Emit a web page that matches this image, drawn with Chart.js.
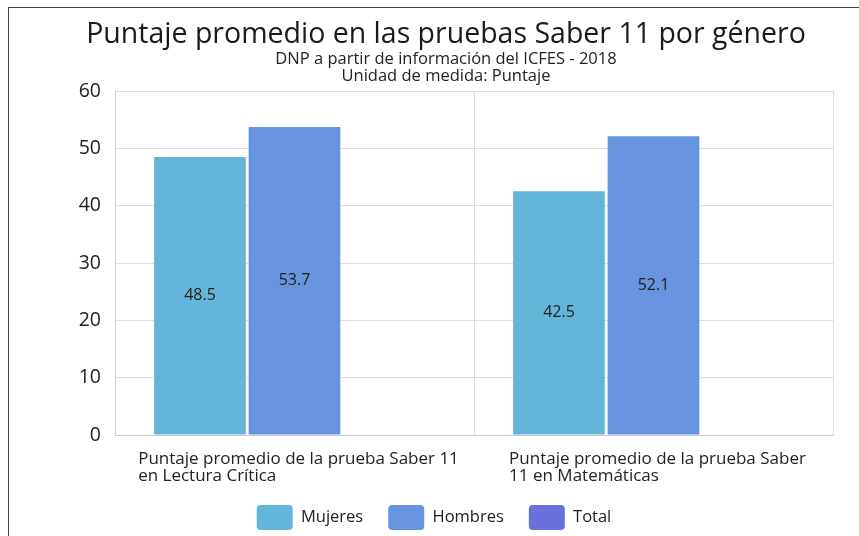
<!DOCTYPE html>
<html>
<head>
<meta charset="utf-8">
<script src="https://cdn.jsdelivr.net/npm/chart.js@4.4.1/dist/chart.umd.min.js"></script>
<style>
  html, body { margin: 0; padding: 0; background: #ffffff; overflow: hidden; width: 859px; height: 536px; }
  #frame { position: absolute; left: 8px; top: 7px; width: 851px; height: 533px;
           border-top: 1px solid #444; border-left: 1px solid #444; box-sizing: border-box; }
  #wrap { position: absolute; left: 0; top: 0; width: 850px; height: 532px; }
</style>
</head>
<body>
<div id="frame"><div id="wrap"><canvas id="c"></canvas></div></div>
<script>
const titleText = 'Puntaje promedio en las pruebas Saber 11 por género';
const subtitleLines = ['DNP a partir de información del ICFES - 2018', 'Unidad de medida: Puntaje'];
const categories = [
  ['Puntaje promedio de la prueba Saber 11', 'en Lectura Crítica'],
  ['Puntaje promedio de la prueba Saber', '11 en Matemáticas']
];
const seriesNames = ['Mujeres', 'Hombres', 'Total'];
const mujeres = [48.5, 42.5];
const hombres = [53.7, 52.1];
const total = [null, null];
const yTicks = [0, 10, 20, 30, 40, 50, 60];

const FONT = "'Open Sans', 'Noto Sans', sans-serif";
const colors = ['#63B5DA', '#6694DE', '#6870DC'];
const X_FONT_SIZE = 17;
const X_LINE = 17;

// Category labels: each multi-line label is left-aligned inside a block centred on its category
const categoryLabels = {
  id: 'categoryLabels',
  afterDraw(chart) {
    const ctx = chart.ctx;
    const xs = chart.scales.x;
    ctx.save();
    ctx.font = X_FONT_SIZE + 'px ' + FONT;
    ctx.fillStyle = '#222';
    ctx.textAlign = 'left';
    ctx.textBaseline = 'alphabetic';
    categories.forEach((lines, i) => {
      let w = 0;
      lines.forEach(l => { w = Math.max(w, ctx.measureText(l).width); });
      const x0 = xs.getPixelForValue(i) - w / 2 + 4;
      lines.forEach((l, j) => {
        ctx.fillText(l, x0, xs.top + 29 + j * X_LINE);
      });
    });
    ctx.restore();
  }
};

const valueLabels = {
  id: 'valueLabels',
  afterDatasetsDraw(chart) {
    const ctx = chart.ctx;
    ctx.save();
    ctx.font = '16px ' + FONT;
    ctx.fillStyle = '#222';
    ctx.textAlign = 'center';
    ctx.textBaseline = 'middle';
    chart.data.datasets.forEach((ds, di) => {
      const meta = chart.getDatasetMeta(di);
      if (meta.hidden) return;
      meta.data.forEach((bar, i) => {
        const v = ds.data[i];
        if (v === null || v === undefined) return;
        ctx.fillText(String(v), bar.x, (bar.y + bar.base) / 2);
      });
    });
    ctx.restore();
  }
};

// Shift the legend row slightly to the left, as in the reference
const legendShift = {
  id: 'legendShift',
  afterLayout(chart) {
    if (chart.legend) { chart.legend.left -= 24; }
  }
};

new Chart(document.getElementById('c'), {
  type: 'bar',
  data: {
    labels: categories,
    datasets: [
      { label: seriesNames[0], data: mujeres, backgroundColor: colors[0] },
      { label: seriesNames[1], data: hombres, backgroundColor: colors[1] },
      { label: seriesNames[2], data: total, backgroundColor: colors[2] }
    ]
  },
  options: {
    responsive: true,
    maintainAspectRatio: false,
    animation: false,
    layout: { padding: { left: 50, right: 26, top: 0, bottom: 0 } },
    datasets: { bar: { categoryPercentage: 0.79, barPercentage: 0.97 } },
    plugins: {
      title: {
        display: true, text: titleText, color: '#1a1a1a',
        font: { family: FONT, size: 28.5, weight: 'normal', lineHeight: 1.1 },
        padding: { top: 11, bottom: 0 }
      },
      subtitle: {
        display: true, text: subtitleLines, color: '#222',
        font: { family: FONT, size: 16.5, weight: 'normal', lineHeight: 1.05 },
        padding: { top: 0, bottom: 6 }
      },
      legend: {
        position: 'bottom',
        labels: {
          color: '#222', font: { family: FONT, size: 16.5 },
          boxWidth: 36, boxHeight: 25, useBorderRadius: true, borderRadius: 4,
          padding: 25
        }
      },
      tooltip: { enabled: false }
    },
    scales: {
      x: {
        afterFit(scale) { scale.height = 45; },
        grid: { color: '#dddddd', drawTicks: false },
        border: { color: '#cccccc' },
        ticks: { display: false, autoSkip: false, maxRotation: 0 }
      },
      y: {
        min: 0, max: 60,
        afterFit(scale) { scale.width = 56; },
        afterBuildTicks(scale) { scale.ticks = yTicks.map(v => ({ value: v })); },
        grid: { color: '#dddddd', drawTicks: false },
        border: { color: '#cccccc' },
        ticks: { color: '#222', font: { family: FONT, size: 19.5 }, padding: 14 }
      }
    }
  },
  plugins: [valueLabels, categoryLabels, legendShift]
});
</script>
</body>
</html>
